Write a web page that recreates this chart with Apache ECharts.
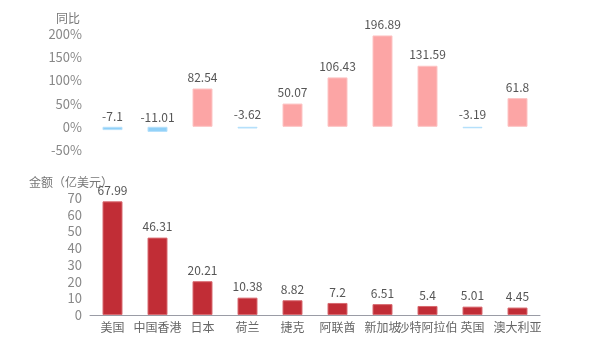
<!DOCTYPE html>
<html><head><meta charset="utf-8">
<script src="https://cdn.jsdelivr.net/npm/echarts@6/dist/echarts.min.js"></script>
<style>html,body{margin:0;padding:0;background:#fff}#c{width:600px;height:350px}</style>
</head><body><div id="c"></div>
<script>
const categories = ['美国','中国香港','日本','荷兰','捷克','阿联酋','新加坡','沙特阿拉伯','英国','澳大利亚'];
const amounts = [67.99, 46.31, 20.21, 10.38, 8.82, 7.2, 6.51, 5.4, 5.01, 4.45];
const yoy = [-7.1, -11.01, 82.54, -3.62, 50.07, 106.43, 196.89, 131.59, -3.19, 61.8];
const yoyTicks = [-50, 0, 50, 100, 150, 200];
const amountTicks = [0, 10, 20, 30, 40, 50, 60, 70];

const FONT = '"Noto Sans CJK SC", "Noto Sans", sans-serif';
const chart = echarts.init(document.getElementById('c'), null, {renderer: 'canvas'});
chart.setOption({
  animation: false,
  textStyle: {fontFamily: FONT},
  grid: [
    {left: 90, right: 60, top: 34, height: 116},
    {left: 90, right: 60, top: 198, bottom: 35}
  ],
  xAxis: [
    {type: 'category', gridIndex: 0, data: categories, show: false},
    {type: 'category', gridIndex: 1, data: categories,
     axisLine: {lineStyle: {color: '#9a9ca6'}},
     axisTick: {alignWithLabel: true, lineStyle: {color: '#9a9ca6'}},
     axisLabel: {color: '#666', fontSize: 12, interval: 0, margin: 6, fontFamily: FONT}}
  ],
  yAxis: [
    {type: 'value', gridIndex: 0, min: yoyTicks[0], max: yoyTicks[yoyTicks.length-1], interval: 50,
     name: '同比', nameGap: 10,
     nameTextStyle: {color: '#777', fontSize: 12, padding: [0, 44, 0, 0], fontFamily: FONT},
     splitLine: {show: false}, axisLine: {show: false}, axisTick: {show: false},
     axisLabel: {color: '#888', fontSize: 13, formatter: '{value}%', fontFamily: FONT}},
    {type: 'value', gridIndex: 1, min: amountTicks[0], max: amountTicks[amountTicks.length-1], interval: 10,
     name: '金额（亿美元）', nameGap: 10,
     nameTextStyle: {color: '#777', fontSize: 12, padding: [0, 38, 0, 0], fontFamily: FONT},
     splitLine: {show: false}, axisLine: {show: false}, axisTick: {show: false},
     axisLabel: {color: '#888', fontSize: 13, fontFamily: FONT}}
  ],
  series: [
    {type: 'bar', xAxisIndex: 0, yAxisIndex: 0, barWidth: 20,
     data: yoy.map(v => ({value: v,
       itemStyle: v < 0 ? {color: '#90d0f8', borderColor: '#b5e0fb', borderWidth: 1}
                        : {color: '#fca5a5', borderColor: '#fdc4c4', borderWidth: 1},
       label: v < 0 ? {position: 'insideBottom', offset: [0, -3]} : {}})),
     label: {show: true, position: 'top', color: '#555', fontSize: 12, fontFamily: FONT}},
    {type: 'bar', xAxisIndex: 1, yAxisIndex: 1, barWidth: 20,
     itemStyle: {color: '#c12d36', borderColor: '#d86a70', borderWidth: 1},
     data: amounts,
     label: {show: true, position: 'top', color: '#555', fontSize: 12, fontFamily: FONT}}
  ]
});
</script></body></html>
